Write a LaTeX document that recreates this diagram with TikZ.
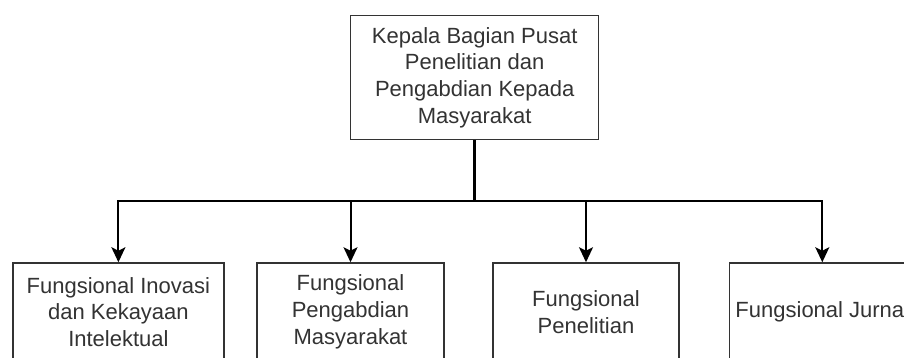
\documentclass[tikz,border=0pt]{standalone}
\usepackage{fontspec}
\setmainfont{Liberation Sans}
\usetikzlibrary{arrows.meta}
\definecolor{ink}{RGB}{51,51,51}
\begin{document}
\begin{tikzpicture}[x=1pt,y=-1pt,
  box/.style={draw=ink,line width=1.5pt,fill=white,align=center,
    text=ink,font=\fontsize{22}{26.7}\selectfont,inner sep=0pt},
  edge/.style={draw=black,line width=2pt,
    -{Stealth[width=14pt,length=15pt,inset=3.5pt]}},
  trunk/.style={draw=black,line width=3pt}]
  \clip (0,0) rectangle (904,358);
  \fill[white] (0,0) rectangle (904,358);
  % head of the unit
  \node[box,minimum width=248pt,minimum height=123.6pt] (top) at (474.7,77.5)
    {Kepala Bagian Pusat\\Penelitian dan\\Pengabdian Kepada\\Masyarakat};
  % functional groups
  \node[box,minimum width=211pt,minimum height=98pt] (b1) at (118.4,312)
    {Fungsional Inovasi\\dan Kekayaan\\Intelektual};
  \node[box,minimum width=187pt,minimum height=98pt] (b2) at (350.5,312)
    {Fungsional\\Pengabdian\\Masyarakat};
  \node[box,minimum width=186pt,minimum height=98pt] (b3) at (586,312)
    {Fungsional\\Penelitian};
  \node[box,minimum width=186pt,minimum height=98pt] (b4) at (822.3,312)
    {Fungsional Jurnal};
  % connectors
  \coordinate (bar) at (474.7,201.3);
  \draw[trunk] (top.south) -- (bar);
  \foreach \n in {b1,b2,b3,b4}
    \draw[edge] (bar) -| (\n.north);
\end{tikzpicture}
\end{document}
